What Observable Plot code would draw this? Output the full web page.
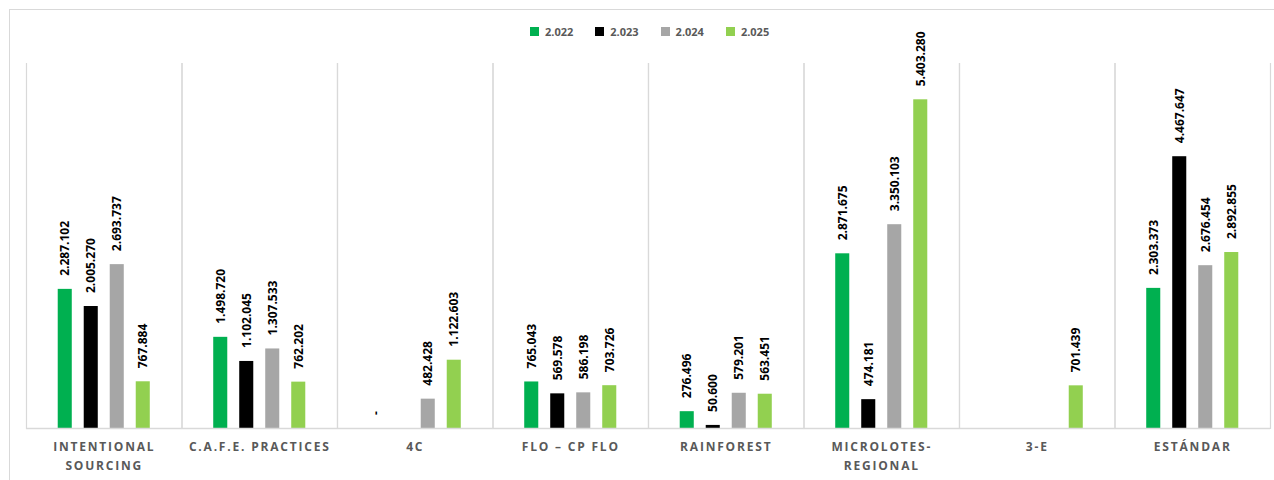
<!DOCTYPE html>
<html><head><meta charset="utf-8">
<script src="https://cdn.jsdelivr.net/npm/d3@7"></script>
<script src="https://cdn.jsdelivr.net/npm/@observablehq/plot@0.6"></script>
<style>
html,body{margin:0;padding:0;background:#fff;overflow:hidden}
#wrap{position:relative;width:1274px;height:480px;font-family:"Open Sans",sans-serif;overflow:hidden}
#border{position:absolute;left:9px;top:9px;width:1400px;height:600px;border:1px solid #d9d9d9;box-sizing:border-box}
#legend{position:absolute;top:24px;left:530px;display:flex;align-items:center;font-size:11px;font-weight:bold;color:#595959}
#legend .item{display:flex;align-items:center;margin-right:22px}
#legend .sw{width:9px;height:9px;margin-right:6px}
#chart{position:absolute;left:0;top:0}
#chart g[aria-label="fx-axis tick label"] text{letter-spacing:1.8px}
</style>
</head><body>
<div id="wrap"><div id="border"></div><div id="chart"></div><div id="legend"></div></div>
<script>
const categories = ["INTENTIONAL SOURCING","C.A.F.E. PRACTICES","4C","FLO – CP FLO","RAINFOREST","MICROLOTES-REGIONAL","3-E","ESTÁNDAR"];
const categoryLabels = ["INTENTIONAL\nSOURCING","C.A.F.E. PRACTICES","4C","FLO – CP FLO","RAINFOREST","MICROLOTES-\nREGIONAL","3-E","ESTÁNDAR"];
const series = ["2.022","2.023","2.024","2.025"];
const colors = ["#00b050","#000000","#a6a6a6","#92d050"];
const values2022 = [2287102,1498720,0,765043,276496,2871675,null,2303373];
const values2023 = [2005270,1102045,null,569578,50600,474181,null,4467647];
const values2024 = [2693737,1307533,482428,586198,579201,3350103,null,2676454];
const values2025 = [767884,762202,1122603,703726,563451,5403280,701439,2892855];
const seriesValues = [values2022,values2023,values2024,values2025];

const rows = [];
categories.forEach((c,i)=>series.forEach((s,j)=>{
  const v = seriesValues[j][i];
  if (v != null) rows.push({cat:c, series:s, value:v});
}));

const loc = d3.formatLocale({decimal:",", thousands:".", grouping:[3], currency:["",""]});
const f = loc.format(",d");
const fmt = v => v === 0 ? "-" : f(v);

const chart = Plot.plot({
  width:1274, height:480,
  marginTop:63, marginBottom:52, marginLeft:26, marginRight:4,
  style:{fontFamily:"'Open Sans', sans-serif", background:"transparent"},
  fx:{domain:categories, padding:0, round:false, label:null},
  x:{domain:series, paddingInner:0.46, paddingOuter:1.22, round:false, axis:null},
  y:{domain:[0,6000000], axis:null},
  color:{domain:series, range:colors},
  marks:[
    Plot.frame({anchor:"left", stroke:"#d9d9d9", strokeWidth:1.2}),
    Plot.frame({anchor:"right", stroke:"#d9d9d9", strokeWidth:1.2}),
    Plot.barY(rows, {fx:"cat", x:"series", y:"value", fill:"series"}),
    Plot.ruleY([0], {stroke:"#d9d9d9", strokeWidth:1.5}),
    Plot.text(rows, {fx:"cat", x:"series", y:"value", text:d=>fmt(d.value), rotate:-90, textAnchor:"start", dy:-13.5, fontWeight:"bold", fontSize:12, fill:"#000"}),
    Plot.axisFx({anchor:"bottom", tickSize:0, tickPadding:10, fontSize:12, fontWeight:"bold", fill:"#595959", lineHeight:1.52, label:null,
      tickFormat:d=>categoryLabels[categories.indexOf(d)]})
  ]
});
document.getElementById("chart").appendChild(chart);

const legend = document.getElementById("legend");
series.forEach((s,j)=>{
  const it = document.createElement("div"); it.className="item";
  const sw = document.createElement("div"); sw.className="sw"; sw.style.background=colors[j];
  const t = document.createElement("span"); t.textContent=s;
  it.appendChild(sw); it.appendChild(t); legend.appendChild(it);
});
</script>
</body></html>
